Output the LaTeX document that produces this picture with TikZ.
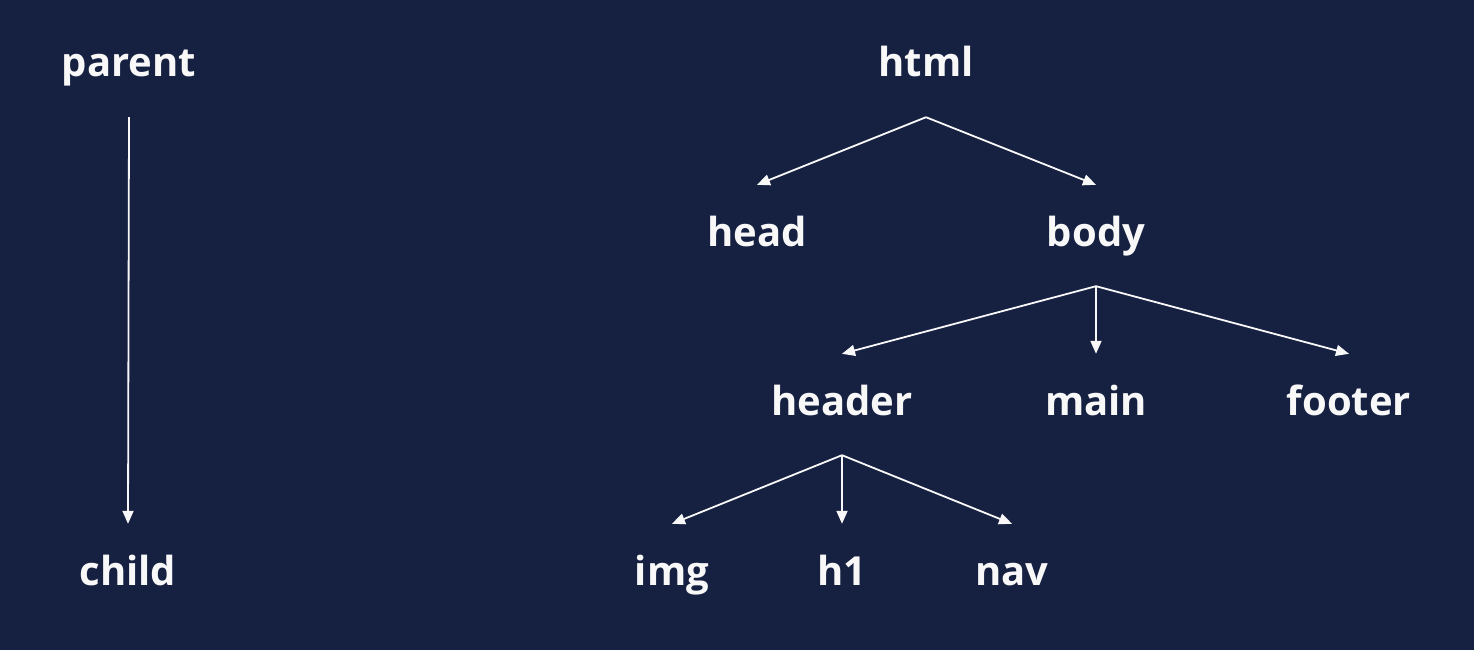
\documentclass[tikz,border=0pt]{standalone}
\usepackage{fontspec}
\setmainfont{Open Sans}
\usetikzlibrary{arrows.meta}
\definecolor{bg}{HTML}{162142}
\definecolor{fg}{HTML}{F8F8F8}
\begin{document}
\begin{tikzpicture}[x=1pt,y=-1pt,
  lbl/.style={anchor=base,inner sep=0pt,text height=61pt,text depth=40pt,
    text=fg,font=\fontsize{40}{44}\selectfont\bfseries},
  arr/.style={draw=fg,line width=1.8pt,-{Triangle[length=13pt,width=11pt]}}]
\fill[bg] (0,0) rectangle (1474,650);
\useasboundingbox (0,0) rectangle (1474,650);
\node[lbl] (parent) at (129,77) {parent};
\node[lbl] (child) at (128,585) {child};
\node[lbl] (html) at (926,77) {html};
\node[lbl] (head) at (757,246) {head};
\node[lbl] (body) at (1096,246) {body};
\node[lbl] (header) at (842,415) {header};
\node[lbl] (main) at (1096,415) {main};
\node[lbl] (footer) at (1349,415) {footer};
\node[lbl] (img) at (672,585) {img};
\node[lbl] (h1) at (842,585) {h1};
\node[lbl] (nav) at (1012,585) {nav};
\draw[arr] (parent.south) -- (child.north);
\draw[arr] (html.south) -- (head.north);
\draw[arr] (html.south) -- (body.north);
\draw[arr] (body.south) -- (header.north);
\draw[arr] (body.south) -- (main.north);
\draw[arr] (body.south) -- (footer.north);
\draw[arr] (header.south) -- (img.north);
\draw[arr] (header.south) -- (h1.north);
\draw[arr] (header.south) -- (nav.north);
\end{tikzpicture}
\end{document}
